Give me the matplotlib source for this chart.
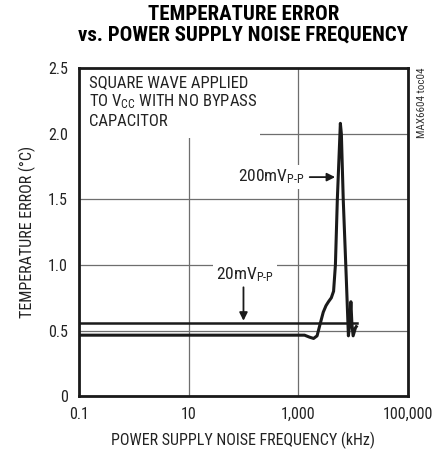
import matplotlib
matplotlib.use("Agg")
import matplotlib.pyplot as plt
from matplotlib.patches import Rectangle
from matplotlib import font_manager

names = {f.name for f in font_manager.fontManager.ttflist}
narrow = [n for n in ["Roboto Condensed", "Liberation Sans Narrow", "Liberation Sans"] if n in names]
plt.rcParams["font.family"] = narrow + ["DejaVu Sans"]
plt.rcParams["mathtext.fontset"] = "custom"
plt.rcParams["mathtext.rm"] = narrow[0]
plt.rcParams["mathtext.it"] = narrow[0]

# 20mVp-p: flat response
freq_20 = [0.1, 12000]
temp_20 = [0.555, 0.555]

# 200mVp-p: resonance near 6 MHz
freq_200 = [0.1, 1300, 1600, 1900, 2200, 2500, 2850, 3200, 3550, 4000, 4400,
            4750, 5150, 5850, 6100, 6600, 7500, 8200, 8650, 9100, 9500,
            10000, 11000, 11400]
temp_200 = [0.465, 0.465, 0.45, 0.44, 0.46, 0.55, 0.64, 0.69, 0.72, 0.75, 0.80,
            1.0, 1.5, 2.08, 2.0, 1.5, 0.9, 0.46, 0.55, 0.72, 0.55,
            0.46, 0.52, 0.53]

xticks = [0.1, 10, 1000, 100000]
xtick_labels = ["0.1", "10", "1,000", "100,000"]
yticks = [0, 0.5, 1.0, 1.5, 2.0, 2.5]
ytick_labels = ["0", "0.5", "1.0", "1.5", "2.0", "2.5"]

fig = plt.figure(figsize=(4.34, 4.58), dpi=100)
ax = fig.add_axes([0.182, 0.135, 0.758, 0.716])
ax.set_xscale("log")
ax.set_xlim(0.1, 100000)
ax.set_ylim(0, 2.5)

ax.set_xticks(xticks)
ax.set_xticklabels(xtick_labels)
ax.set_xticks([], minor=True)
ax.set_yticks(yticks)
ax.set_yticklabels(ytick_labels)
ax.tick_params(length=0, labelsize=11.5, pad=8, labelcolor="#222222")
ax.grid(True, color="#6e6e6e", linewidth=0.9)
ax.set_axisbelow(True)
for s in ax.spines.values():
    s.set_linewidth(2.0)
    s.set_color("#1a1a1a")

# white area behind the note, hiding the grid
ax.add_patch(Rectangle((0, 0.787), 0.55, 0.213, transform=ax.transAxes,
                       facecolor="white", edgecolor="none", zorder=1.5))

ax.plot(freq_20, temp_20, color="#1a1a1a", linewidth=1.8, zorder=3)
ax.plot(freq_200, temp_200, color="#1a1a1a", linewidth=2.2, zorder=3,
        solid_joinstyle="round")

ax.text(0.03, 0.98, "SQUARE WAVE APPLIED\nTO V$_{\\mathrm{CC}}$ WITH NO BYPASS\nCAPACITOR",
        transform=ax.transAxes, ha="left", va="top", fontsize=12,
        linespacing=1.2, zorder=4, color="#222222")

ax.annotate("200mV$_{\\mathrm{P\\text{-}P}}$", xy=(4700, 1.67), xytext=(1280, 1.67),
            ha="right", va="center", fontsize=12.5, color="#222222",
            bbox=dict(facecolor="white", edgecolor="none", pad=2),
            arrowprops=dict(arrowstyle="-|>", color="#1a1a1a", lw=1.3,
                            mutation_scale=12, shrinkA=2, shrinkB=0),
            zorder=4)

ax.text(107, 0.93, "20mV$_{\\mathrm{P\\text{-}P}}$", ha="center", va="center",
        fontsize=12.5, color="#222222",
        bbox=dict(facecolor="white", edgecolor="none", pad=2), zorder=4)
ax.annotate("", xy=(100, 0.575), xytext=(100, 0.83),
            arrowprops=dict(arrowstyle="-|>", color="#1a1a1a", lw=1.3,
                            mutation_scale=12, shrinkA=0, shrinkB=0),
            zorder=4)

ax.set_xlabel("POWER SUPPLY NOISE FREQUENCY (kHz)", fontsize=11.5, labelpad=7,
              color="#222222")
ax.set_ylabel("TEMPERATURE ERROR (\u00b0C)", fontsize=11.5, labelpad=9,
              color="#222222")

fig.text(0.561, 0.988, "TEMPERATURE ERROR\nvs. POWER SUPPLY NOISE FREQUENCY",
         ha="center", va="top", fontsize=15, fontweight="bold",
         linespacing=1.1)

fig.text(0.972, 0.852, "MAX6604 toc04", rotation=90, ha="center", va="top",
         fontsize=8, color="#333333")

fig.savefig("out.png", dpi=100)
